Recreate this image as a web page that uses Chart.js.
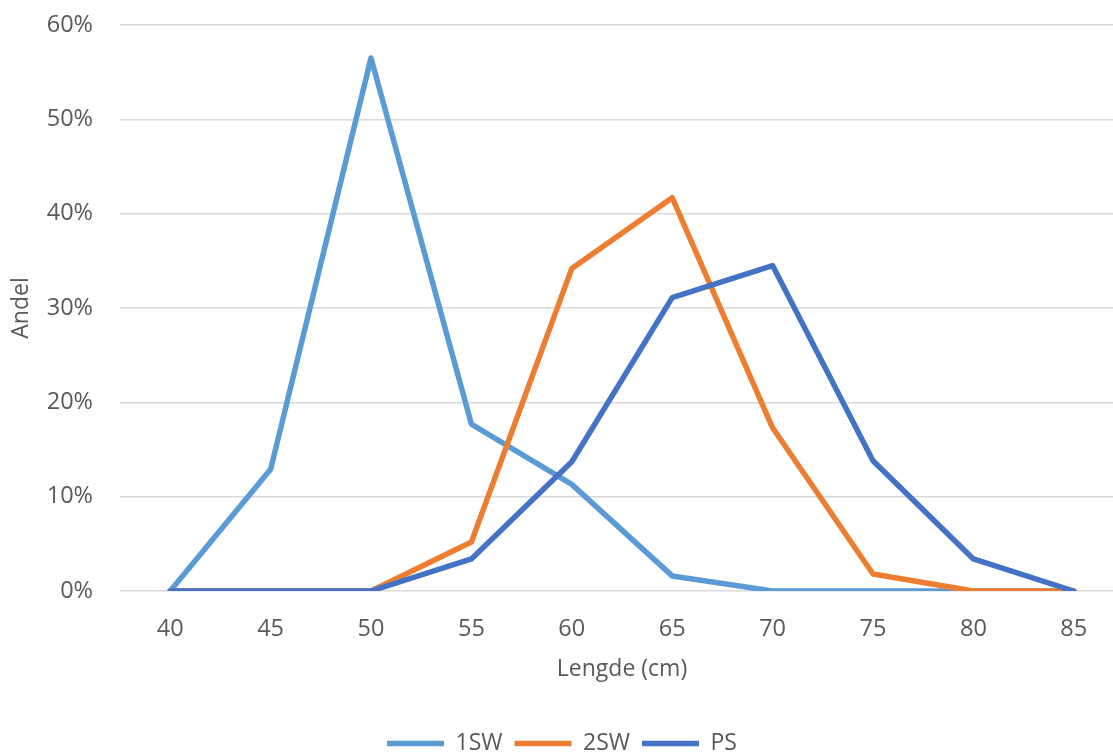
<!DOCTYPE html>
<html>
<head>
<meta charset="utf-8">
<script src="https://cdn.jsdelivr.net/npm/chart.js@4/dist/chart.umd.min.js"></script>
<style>
  html, body { margin: 0; padding: 0; overflow: hidden; background: #ffffff; width: 1113px; height: 754px; }
  #wrap { position: absolute; left: 0; top: 0; }
</style>
</head>
<body>
<div id="wrap"><canvas id="c" width="1124" height="765"></canvas></div>
<script>
const categories = ['40', '45', '50', '55', '60', '65', '70', '75', '80', '85'];
const sw1 = [0, 0.129, 0.565, 0.177, 0.113, 0.016, 0, 0, 0, 0];
const sw2 = [0, 0, 0, 0.052, 0.342, 0.417, 0.173, 0.018, 0, 0];
const ps  = [0, 0, 0, 0.034, 0.137, 0.311, 0.345, 0.138, 0.034, 0];
const yTicks = [0, 0.1, 0.2, 0.3, 0.4, 0.5, 0.6];

const FONT = '"Open Sans", "Segoe UI", sans-serif';
const TXT = '#595959';
const PLOT_TOP = 25, PLOT_BOTTOM = 591, PLOT_LEFT = 120;

const ds = (label, data, color, order) => ({
  label, data, borderColor: color, backgroundColor: color,
  borderWidth: 5.5, pointRadius: 0, pointHoverRadius: 0, tension: 0,
  borderCapStyle: 'round', borderJoinStyle: 'round', order, fill: false
});

new Chart(document.getElementById('c'), {
  type: 'line',
  data: {
    labels: categories,
    datasets: [
      ds('1SW', sw1, '#5B9BD5', 2),
      ds('2SW', sw2, '#ED7D31', 1),
      ds('PS', ps, '#4472C4', 0)
    ]
  },
  options: {
    responsive: false,
    animation: false,
    events: [],
    layout: { padding: { top: PLOT_TOP, left: 0, right: 0, bottom: 0 } },
    plugins: {
      tooltip: { enabled: false },
      legend: {
        position: 'bottom',
        labels: {
          usePointStyle: true,
          pointStyle: 'line',
          pointStyleWidth: 57,
          color: TXT,
          font: { family: FONT, size: 23 },
          padding: 12,
          sort: (a, b) => a.datasetIndex - b.datasetIndex
        }
      }
    },
    scales: {
      x: {
        type: 'category',
        offset: true,
        grid: { display: false, drawTicks: false },
        border: { display: false },
        ticks: { color: TXT, font: { family: FONT, size: 23.5 }, padding: 24, maxRotation: 0 },
        title: { display: true, text: 'Lengde (cm)', color: TXT, font: { family: FONT, size: 23 }, padding: { top: 0, bottom: 37 } },
        afterFit: (scale) => {
          const ch = scale.chart;
          scale.height = ch.height - PLOT_BOTTOM - ch.legend.height;
        }
      },
      y: {
        min: 0, max: 0.6,
        afterBuildTicks: (scale) => { scale.ticks = yTicks.map(v => ({ value: v })); },
        grid: { color: '#d9d9d9', lineWidth: 1.5, drawTicks: false },
        border: { display: false },
        ticks: {
          color: TXT, font: { family: FONT, size: 23.5 }, padding: 27,
          callback: (v) => Math.round(v * 100) + '%'
        },
        title: { display: true, text: 'Andel', color: TXT, font: { family: FONT, size: 23 }, padding: { top: 8, bottom: 0 } },
        afterFit: (scale) => { scale.width = PLOT_LEFT; scale.paddingTop = 0; scale.paddingBottom = 0; }
      }
    }
  }
});
</script>
</body>
</html>
